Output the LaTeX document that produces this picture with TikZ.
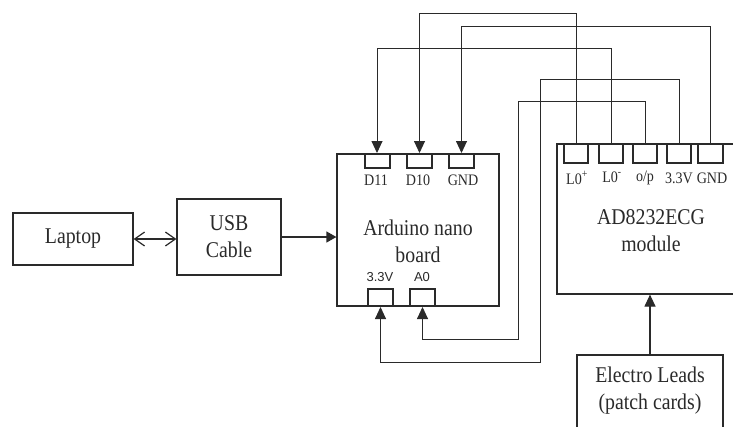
\documentclass[tikz,border=0pt]{standalone}
\usepackage{fontspec}
\setmainfont{Liberation Serif}[FakeStretch=0.88]
\newfontfamily\pinsans{Liberation Sans}
\usetikzlibrary{arrows.meta}
\definecolor{ink}{HTML}{2A2A2A}
\begin{document}
\begin{tikzpicture}[x=1pt,y=-1pt,
  box/.style={draw=ink,line width=1.2pt,inner sep=0pt},
  pinbox/.style={draw=ink,line width=2pt,inner sep=0pt,minimum width=25pt},
  wire/.style={draw=ink,line width=0.9pt},
  tip/.style={-{Triangle[length=12pt,width=11pt]}},
  lbl/.style={font=\fontsize{22.5}{27}\selectfont,align=center,text=ink},
  pinlbl/.style={font=\fontsize{16}{18}\selectfont,text=ink,inner sep=0pt},
  sanslbl/.style={font=\pinsans\fontsize{13}{15}\selectfont,text=ink,inner sep=0pt}]
\useasboundingbox (0,0) rectangle (733,426);
\clip (0,0) rectangle (733,426);
\fill[white] (0,0) rectangle (733,426);
% main boxes
\node[box,minimum width=120pt,minimum height=52pt,lbl] (lap) at (73,239) {Laptop};
\node[box,minimum width=104pt,minimum height=76pt,lbl] (usb) at (229,237) {USB\\Cable};
\node[box,minimum width=162pt,minimum height=152pt] (ard) at (418,230) {};
\node[lbl] (ardt) at (418,241) {Arduino nano\\board};
\node[box,minimum width=188pt,minimum height=150pt] (ad) at (651,219) {};
\node[lbl] (adt) at (651,231) {AD8232ECG\\module};
\node[box,minimum width=146pt,minimum height=90pt] (el) at (650,400) {};
\node[lbl] (elt) at (650,391) {Electro Leads\\(patch cards)};
% Arduino pins
\node[pinbox,minimum height=14pt] (d11) at (377,161) {};
\node[pinbox,minimum height=14pt] (d10) at (419.5,161) {};
\node[pinbox,minimum height=14pt] (gnda) at (461.5,161) {};
\node[pinbox,minimum height=17pt] (p33) at (380.5,297.5) {};
\node[pinbox,minimum height=17pt] (a0) at (422.5,297.5) {};
\node[pinlbl] (d11l) at (376,180) {D11};
\node[pinlbl] (d10l) at (418,180) {D10};
\node[pinlbl] (gndal) at (463,180) {GND};
\node[sanslbl] (p33l) at (380,277) {3.3V};
\node[sanslbl] (a0l) at (422,277) {A0};
% AD8232 pins
\node[pinbox,minimum height=19pt,minimum width=24pt] (lp) at (576,153.5) {};
\node[pinbox,minimum height=19pt,minimum width=24pt] (lm) at (611,153.5) {};
\node[pinbox,minimum height=19pt,minimum width=24pt] (op) at (645,153.5) {};
\node[pinbox,minimum height=19pt,minimum width=24pt] (v33) at (679,153.5) {};
\node[pinbox,minimum height=19pt,minimum width=25pt] (gndb) at (710.5,153.5) {};
\node[pinlbl] (lpl) at (577,178) {L0\textsuperscript{+}};
\node[pinlbl] (lml) at (612,177) {L0\textsuperscript{-}};
\node[pinlbl] (opl) at (645,178) {o/p};
\node[pinlbl] (v33l) at (679,178) {3.3V};
\node[pinlbl] (gndbl) at (712,178) {GND};
% wire levels
\coordinate (lvA) at (0,13);
\coordinate (lvB) at (0,26);
\coordinate (lvC) at (0,48);
\coordinate (lvD) at (540,79);
\coordinate (lvE) at (518,101);
\coordinate (lvF) at (518,339);
\coordinate (lvG) at (540,362);
% connectors
\draw[ink,line width=1.2pt,{Straight Barb[length=10pt,width=14pt]}-{Straight Barb[length=10pt,width=14pt]}] (lap.east) -- (usb.west |- lap.east);
\draw[wire,line width=1.2pt,-{Triangle[length=10pt,width=11pt]}] (usb.east) -- (ard.west |- usb.east);
\draw[wire,line width=1.2pt,tip] (el.north) -- (el.north |- ad.south);
\draw[wire,tip] (lp.north) -- (lp.north |- lvA) -- (d10.north |- lvA) -- (d10.north);
\draw[wire,tip] (gndb.north) -- (gndb.north |- lvB) -- (gnda.north |- lvB) -- (gnda.north);
\draw[wire,tip] (lm.north) -- (lm.north |- lvC) -- (d11.north |- lvC) -- (d11.north);
\draw[wire,tip] (v33.north) -- (v33.north |- lvD) -- (lvD) -- (lvG) -- (p33.south |- lvG) -- (p33.south);
\draw[wire,tip] (op.north) -- (op.north |- lvE) -- (lvE) -- (lvF) -- (a0.south |- lvF) -- (a0.south);
\end{tikzpicture}
\end{document}
